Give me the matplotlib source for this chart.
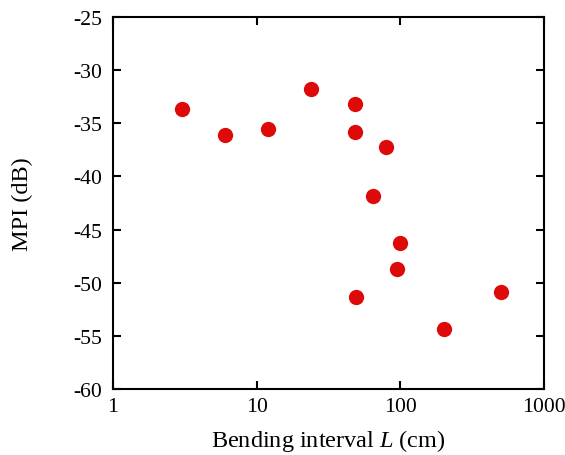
import matplotlib
matplotlib.use("Agg")
import matplotlib.pyplot as plt
from matplotlib.ticker import FixedLocator, FixedFormatter, NullLocator

# Bending interval (cm) and MPI (dB)
bend_cm = [3, 6, 12, 24, 48, 48, 80, 64, 100, 95, 49, 200, 500]
mpi_db = [-33.7, -36.1, -35.5, -31.8, -33.2, -35.8, -37.2, -41.8, -46.3, -48.7, -51.3, -54.4, -50.9]

xticks = [1, 10, 100, 1000]
xlabels = ["1", "10", "100", "1000"]
yticks = [-60, -55, -50, -45, -40, -35, -30, -25]

plt.rcParams["font.family"] = ["Liberation Serif", "DejaVu Serif"]
plt.rcParams["axes.unicode_minus"] = False
plt.rcParams["mathtext.fontset"] = "custom"
plt.rcParams["mathtext.rm"] = "Liberation Serif"
plt.rcParams["mathtext.it"] = "Liberation Serif:italic"

fig = plt.figure(figsize=(5.65, 4.56), dpi=100)
ax = fig.add_axes([0.2, 0.1447, 0.763, 0.8158])

ax.plot(bend_cm, mpi_db, "o", color="#de0a0a", markersize=11, markeredgewidth=0)

ax.set_xscale("log")
ax.set_xlim(1, 1000)
ax.set_ylim(-60, -25)
ax.xaxis.set_major_locator(FixedLocator(xticks))
ax.xaxis.set_major_formatter(FixedFormatter(xlabels))
ax.xaxis.set_minor_locator(NullLocator())
ax.set_yticks(yticks)
ax.set_yticklabels([str(v) for v in yticks])

for s in ax.spines.values():
    s.set_linewidth(1.5)
ax.tick_params(direction="in", length=6, width=1.5, top=True, right=True,
               labelsize=15.7)
ax.tick_params(axis="y", pad=8)
ax.tick_params(axis="x", pad=6)

ax.set_xlabel("Bending interval $\\mathit{L}$ (cm)", fontsize=17.5, labelpad=8)
ax.set_ylabel("MPI (dB)", fontsize=17.5, labelpad=29)

fig.savefig("out.png")
